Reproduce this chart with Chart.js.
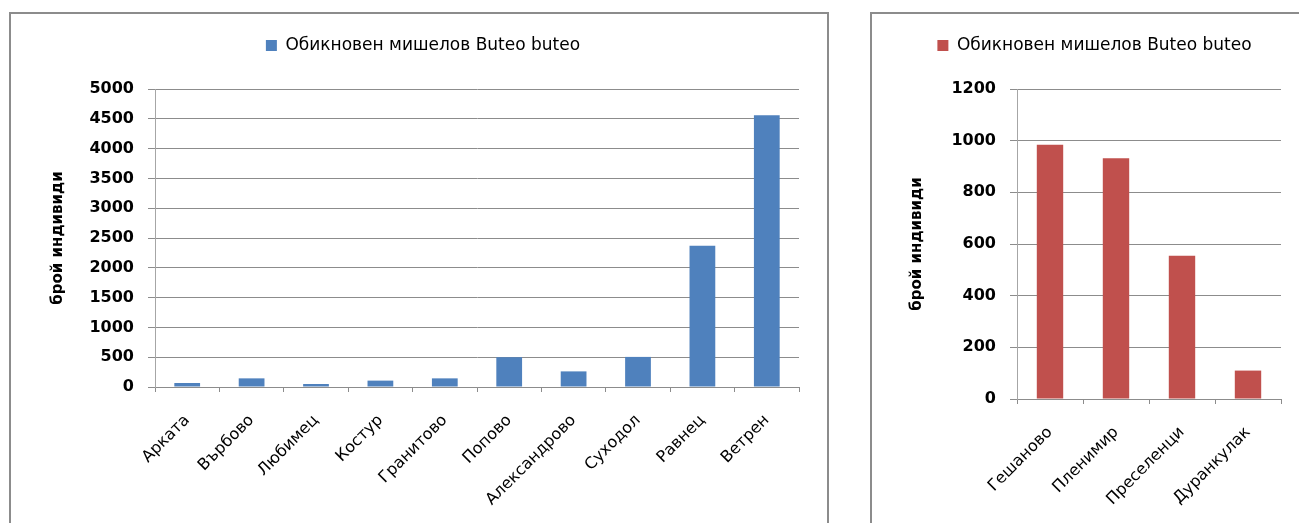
<!DOCTYPE html>
<html>
<head>
<meta charset="utf-8">
<script src="https://cdn.jsdelivr.net/npm/chart.js@4"></script>
<style>
  body { margin: 0; background: #fff; width: 1299px; height: 523px; overflow: hidden; position: relative; }
  .box { position: absolute; top: 12px; height: 600px; border: 2px solid #8c8c8c; }
  .wrap { position: absolute; top: 14px; height: 509px; }
</style>
</head>
<body>
<div class="box" style="left:9px; width:816px;"></div>
<div class="box" style="left:870px; width:500px;"></div>
<div class="wrap" style="left:11px; width:816px;"><canvas id="chartwest"></canvas></div>
<div class="wrap" style="left:873px; width:426px;"><canvas id="chartnorth"></canvas></div>
<script>
var fontname = "'DejaVu Sans', sans-serif"
var gridcolor = "#8c8c8c"
var axiscolor = "#a6a6a6"

const seriesName = "Обикновен мишелов Buteo buteo"
const axisTitle = "брой индивиди"

const westPlaces = ["Арката", "Върбово", "Любимец", "Костур", "Гранитово", "Попово", "Александрово", "Суходол", "Равнец", "Ветрен"]
const westCounts = [67, 145, 50, 107, 145, 500, 262, 505, 2370, 4560]

const northPlaces = ["Гешаново", "Пленимир", "Преселенци", "Дуранкулак"]
const northCounts = [984, 932, 555, 110]

const dataWest = {
    labels: westPlaces,
    datasets: [{
    label: seriesName,
    backgroundColor: "#4F81BD",
    data: westCounts,
    categoryPercentage: 1,
    barPercentage: 0.4,
    }]
};

const dataNorth = {
    labels: northPlaces,
    datasets: [{
    label: seriesName,
    backgroundColor: "#C0504D",
    data: northCounts,
    categoryPercentage: 1,
    barPercentage: 0.4,
    }]
};

// builds the shared look; only the y range and a few offsets differ
function makeOptions(ymax, ystep, leftPad, rightPad, xHeight, titlePad) {
    return {
        animation: false,
        responsive: true,
        maintainAspectRatio: false,
        layout: {
            padding: { top: 13, left: leftPad, right: rightPad, bottom: 0 }
        },
        scales: {
            x: {
                grid: {
                    drawOnChartArea: false,
                    tickLength: 5,
                    color: gridcolor,
                },
                border: { color: gridcolor },
                ticks: {
                    color: "#000",
                    minRotation: 45,
                    maxRotation: 45,
                    padding: 19,
                    font: { family: fontname, size: 16 },
                },
                afterFit: function (s) { s.height = xHeight; },
            },
            y: {
                min: 0,
                max: ymax,
                grid: {
                    color: gridcolor,
                    tickLength: 7,
                },
                border: { color: axiscolor },
                ticks: {
                    stepSize: ystep,
                    color: "#000",
                    padding: 14,
                    font: { family: fontname, size: 16, weight: "bold" },
                    callback: function (v) { return String(v); },
                },
                title: {
                    display: true,
                    text: axisTitle,
                    color: "#000",
                    padding: { top: titlePad, bottom: 0 },
                    font: { family: fontname, size: 15, weight: "bold" },
                },
                // plot always starts 144px into the canvas
                afterFit: function (s) { s.width = 144 - leftPad; },
            }
        },
        plugins: {
            legend: {
                display: true,
                labels: {
                    boxWidth: 11,
                    boxHeight: 11,
                    padding: 10,
                    color: "#000",
                    font: { family: fontname, size: 17 },
                }
            },
            // empty line that keeps the gap between legend and plot
            subtitle: {
                display: true,
                text: " ",
                weight: 500,
                padding: 0,
                font: { size: 10, lineHeight: 2.5 },
            },
            tooltip: { enabled: false },
        },
    };
}

const configWest = {
    type: 'bar',
    data: dataWest,
    options: makeOptions(5000, 500, 36, 28, 136, 2),
};

const chartWest = new Chart(
document.getElementById('chartwest'),
configWest
);

const configNorth = {
    type: 'bar',
    data: dataNorth,
    options: makeOptions(1200, 200, 35, 18, 124, 0),
};

const chartNorth = new Chart(
document.getElementById('chartnorth'),
configNorth
);
</script>
</body>
</html>
